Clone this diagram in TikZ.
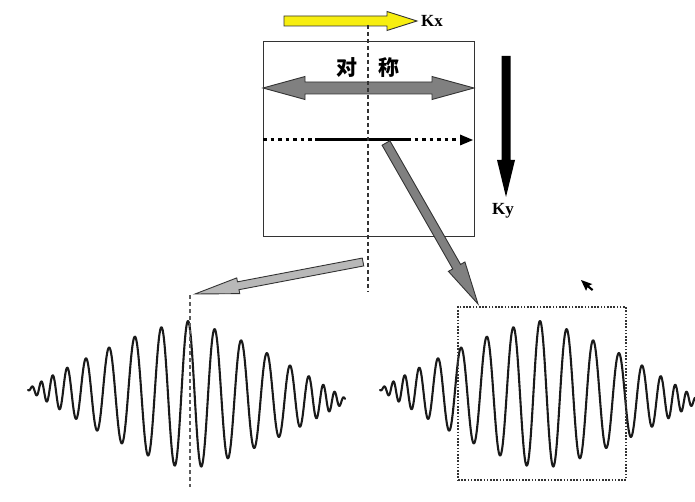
\documentclass[tikz,border=0pt]{standalone}
\usepackage{fontspec}
\setmainfont{Liberation Serif}
\newfontfamily\cjkfont{Noto Sans CJK SC}
\usetikzlibrary{calc}
\definecolor{lineDark}{HTML}{333333}
\definecolor{armGray}{HTML}{808080}
\definecolor{lightArm}{HTML}{B8B8B8}
\definecolor{kxYellow}{HTML}{F7EE10}
\definecolor{waveInk}{HTML}{1A1A1A}
\newcommand\FatArrow[6]{%
  \coordinate (fahead) at ($(#2)!#5!(#1)$);
  \path[#6] ($(#1)!#3!90:(#2)$) -- ($(fahead)!#3!90:(#2)$) -- ($(fahead)!#4!90:(#2)$)
    -- (#2) -- ($(fahead)!#4!-90:(#2)$) -- ($(fahead)!#3!-90:(#2)$) -- ($(#1)!#3!-90:(#2)$) -- cycle;}
\tikzset{
  wave/.style={draw=waveInk, line width=2.1pt, line join=round, line cap=round},
  guide/.style={draw=lineDark, line width=1.1pt, dash pattern=on 4pt off 3pt},
  fatgray/.style={fill=armGray, draw=lineDark, line width=0.9pt, line join=miter},
  fatlight/.style={fill=lightArm, draw=lineDark, line width=0.9pt},
  label/.style={font=\fontsize{17}{17}\selectfont\bfseries, inner sep=0pt},
}
\begin{document}
\begin{tikzpicture}[x=1pt,y=-1pt]
\useasboundingbox (0,0) rectangle (695,502);
% main box
\node[draw=lineDark, line width=1pt, minimum width=211pt, minimum height=195pt, inner sep=0pt] (box) at (368.5,139.5) {};
% yellow Kx arrow
\coordinate (kxs) at (284,21);
\coordinate (kxe) at (417,21);
\FatArrow{kxs}{kxe}{5pt}{9.5pt}{30pt}{fill=kxYellow, draw=lineDark, line width=0.9pt}
\node[label, anchor=west] (kx) at (421,21) {Kx};
% Ky arrow
\coordinate (kys) at (506,56);
\coordinate (kye) at (506,197);
\FatArrow{kys}{kye}{4.5pt}{9pt}{37pt}{fill=black}
\node[label] (ky) at (503,211) {Ky};
% symmetric double arrow
\path[fatgray] (263,88) -- (305,76.5) -- (305,82) -- (432,82) -- (432,76.5) -- (474,88)
  -- (432,99.5) -- (432,94) -- (305,94) -- (305,99.5) -- cycle;
\node[font=\cjkfont\bfseries\fontsize{21}{21}\selectfont, inner sep=0pt] (sym) at (367.5,68) {对\hspace{21pt}称};
% horizontal dotted line with solid middle
\coordinate (hl) at (263,140);
\coordinate (h1) at (315,140);
\coordinate (h2) at (407,140);
\coordinate (h3) at (461,140);
\coordinate (hr) at (473,140);
\draw[line width=3pt, dash pattern=on 3.5pt off 4pt] (hl) -- (h1);
\draw[line width=3pt] (h1) -- (h2);
\draw[line width=3pt, dash pattern=on 3.5pt off 4pt] (h2) -- (h3);
\fill (hr) -- (460,134.5) -- (460,145.5) -- cycle;
% arrow from box to right window
\coordinate (ra) at (386,143);
\coordinate (rb) at (478,304);
\FatArrow{ra}{rb}{4.5pt}{9.5pt}{43pt}{fatgray}
% arrow to left wave
\coordinate (la) at (363,262);
\coordinate (lb) at (195,294);
\FatArrow{la}{lb}{4pt}{8pt}{44pt}{fatlight}
% centre dashed line
\coordinate (ct) at (368,25);
\coordinate (cb) at (368,292);
\draw[guide] (ct) -- (cb);
% left wave
\draw[wave] plot[domain=-160:157, samples=900]
  ({188+\x}, {395+0.035*\x - 74*(1-((abs(\x)+0.01)/161)^1.3)*cos(13.5*abs(\x) + 54*(abs(\x)/100)^6)});
\coordinate (lt) at (190,295);
\coordinate (lbm) at (190,487);
\draw[guide, draw=lineDark!80] (lt) -- (lbm);
% right wave
\draw[wave] plot[domain=-160:155, samples=900]
  ({540+\x}, {395+0.035*\x - 74*(1-((abs(\x)+0.01)/161)^1.3)*cos(13.5*abs(\x) + 54*(abs(\x)/100)^6)});
\node[draw=lineDark, line width=1.3pt, dash pattern=on 1.6pt off 1.6pt, minimum width=168pt, minimum height=173pt, inner sep=0pt] (win) at (542,393.5) {};
% mouse cursor
\fill[rotate around={25:(581,280)}] (581,280) -- (581,292) -- (583.8,289.3) -- (586.3,294.5) -- (588.2,293.6) -- (585.8,288.5) -- (589.5,288.5) -- cycle;
\end{tikzpicture}
\end{document}
